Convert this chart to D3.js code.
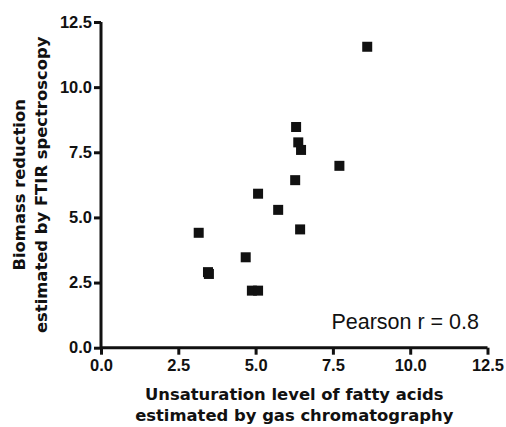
<!DOCTYPE html>
<html>
<head>
<meta charset="utf-8">
<script src="https://cdn.jsdelivr.net/npm/d3@7"></script>
<style>
  body { margin: 0; background: #fff; }
  svg { display: block; }
</style>
</head>
<body>
<div id="chart"></div>
<script>
// data
const unsaturation = [8.61, 6.31, 6.38, 6.47, 7.71, 6.28, 5.73, 5.08, 6.44, 3.16, 3.46, 3.49, 4.68, 4.88, 5.08];
const biomass      = [11.55, 8.47, 7.88, 7.59, 6.98, 6.43, 5.29, 5.91, 4.54, 4.41, 2.90, 2.83, 3.47, 2.19, 2.19];
const tickValues = [0, 2.5, 5, 7.5, 10, 12.5];
const xTitle = ["Unsaturation level of fatty acids", "estimated by gas chromatography"];
const yTitle = ["Biomass reduction", "estimated by FTIR spectroscopy"];
const note = "Pearson r = 0.8";

const width = 506, height = 427;
const margin = {top: 22, right: 18.5, bottom: 79.3, left: 101};

const svg = d3.select("#chart").append("svg")
  .attr("width", width)
  .attr("height", height);

const x = d3.scaleLinear().domain([0, 12.5]).range([margin.left, width - margin.right]);
const y = d3.scaleLinear().domain([0, 12.5]).range([height - margin.bottom, margin.top]);

// axes
const xAxis = svg.append("g")
  .attr("transform", `translate(0,${y(0)})`)
  .call(d3.axisBottom(x).tickValues(tickValues).tickFormat(d3.format(".1f")).tickSize(7).tickPadding(5));

const yAxis = svg.append("g")
  .attr("transform", `translate(${x(0)},0)`)
  .call(d3.axisLeft(y).tickValues(tickValues).tickFormat(d3.format(".1f")).tickSize(7).tickPadding(2));

[xAxis, yAxis].forEach(a => {
  a.select(".domain").attr("stroke", "#111").attr("stroke-width", 3)
    .attr("d", a === xAxis ? `M${x(0)},0H${x(12.5)}` : `M0,${y(0)}V${y(12.5)}`);
  a.selectAll(".tick line").attr("stroke", "#111").attr("stroke-width", 3);
  a.selectAll(".tick text")
    .attr("fill", "#111")
    .style("font-family", "'Liberation Sans', Arial, sans-serif")
    .style("font-weight", "bold")
    .style("font-size", "16.5px");
});

// points
svg.append("g")
  .selectAll("rect")
  .data(unsaturation.map((d, i) => [d, biomass[i]]))
  .join("rect")
  .attr("x", d => x(d[0]) - 5)
  .attr("y", d => y(d[1]) - 5)
  .attr("width", 10)
  .attr("height", 10)
  .attr("fill", "#111");

// axis titles
const titleFont = "'DejaVu Sans', Verdana, sans-serif";
svg.append("g")
  .selectAll("text")
  .data(xTitle)
  .join("text")
  .attr("x", (x(0) + x(12.5)) / 2)
  .attr("y", (d, i) => 400 + i * 21)
  .attr("text-anchor", "middle")
  .style("font-family", titleFont)
  .style("font-weight", "bold")
  .style("font-size", "16.4px")
  .attr("fill", "#111")
  .text(d => d);

svg.append("g")
  .selectAll("text")
  .data(yTitle)
  .join("text")
  .attr("transform", (d, i) => `translate(${25 + i * 22},${(y(0) + y(12.5)) / 2}) rotate(-90)`)
  .attr("text-anchor", "middle")
  .style("font-family", titleFont)
  .style("font-weight", "bold")
  .style("font-size", "16.4px")
  .attr("fill", "#111")
  .text(d => d);

// correlation note
svg.append("text")
  .attr("x", 479)
  .attr("y", 328.5)
  .attr("text-anchor", "end")
  .style("font-family", "'Liberation Sans', Arial, sans-serif")
  .style("font-size", "21.5px")
  .attr("fill", "#111")
  .text(note);
</script>
</body>
</html>
